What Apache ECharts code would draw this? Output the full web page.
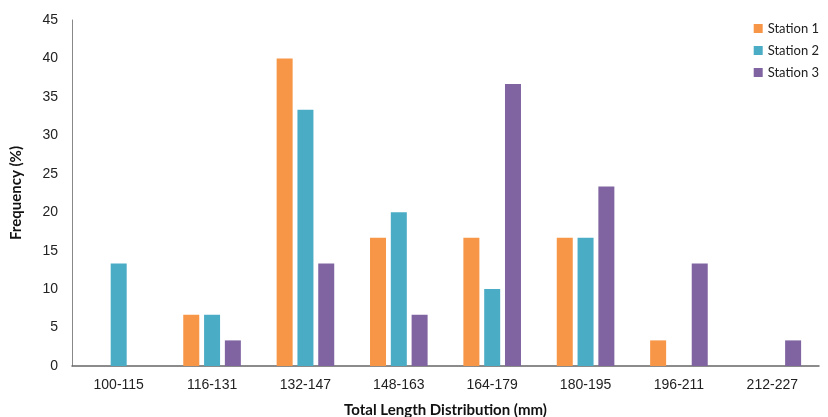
<!DOCTYPE html>
<html><head><meta charset="utf-8">
<script src="https://cdn.jsdelivr.net/npm/echarts@6/dist/echarts.min.js"></script>
<style>html,body{margin:0;padding:0;background:#fff}#c{width:828px;height:417px}</style>
</head><body><div id="c"></div>
<script>
const categories = ['100-115','116-131','132-147','148-163','164-179','180-195','196-211','212-227'];
const station1 = [0, 6.67, 40, 16.67, 16.67, 16.67, 3.33, 0];
const station2 = [13.33, 6.67, 33.33, 20, 10, 16.67, 0, 0];
const station3 = [0, 3.33, 13.33, 6.67, 36.67, 23.33, 13.33, 3.33];
const seriesNames = ['Station 1','Station 2','Station 3'];
const colors = ['#F79646','#4BACC6','#8064A2'];
const chart = echarts.init(document.getElementById('c'));
const mk = (name, data, color) => ({
  name, type: 'bar', data: data.map(v => v === 0 ? null : v), barWidth: 16, barGap: '30%',
  itemStyle: {color}
});
const labelFont = '"Liberation Sans", Arial, sans-serif';
chart.setOption({
  animation: false,
  grid: {left: 72, right: 9, top: 20, bottom: 51, containLabel: false, outerBoundsMode: 'none'},
  legend: {
    orient: 'vertical', right: 4, top: 17, itemWidth: 9, itemHeight: 9, itemGap: 9,
    icon: 'rect', textStyle: {fontFamily: 'Lato, sans-serif', fontSize: 13, color: '#222'},
    data: seriesNames
  },
  xAxis: {
    type: 'category', data: categories,
    axisLine: {lineStyle: {color: '#666', width: 1.5}},
    axisTick: {show: false},
    axisLabel: {color: '#222', fontSize: 14, margin: 12, fontFamily: labelFont},
    name: 'Total Length Distribution (mm)', nameLocation: 'middle', nameGap: 37,
    nameTextStyle: {fontFamily: 'Lato, sans-serif', fontWeight: 'bold', fontSize: 15, color: '#111'}
  },
  yAxis: {
    type: 'value', min: 0, max: 45, interval: 5,
    axisLine: {show: true, lineStyle: {color: '#888'}},
    axisTick: {show: false}, splitLine: {show: false},
    axisLabel: {color: '#222', fontSize: 14, margin: 14, fontFamily: labelFont},
    name: 'Frequency (%)', nameLocation: 'middle', nameGap: 48, nameRotate: 90,
    nameTextStyle: {fontFamily: 'Lato, sans-serif', fontWeight: 'bold', fontSize: 15, color: '#111'}
  },
  series: [mk(seriesNames[0], station1, colors[0]), mk(seriesNames[1], station2, colors[1]), mk(seriesNames[2], station3, colors[2])]
});
</script></body></html>
